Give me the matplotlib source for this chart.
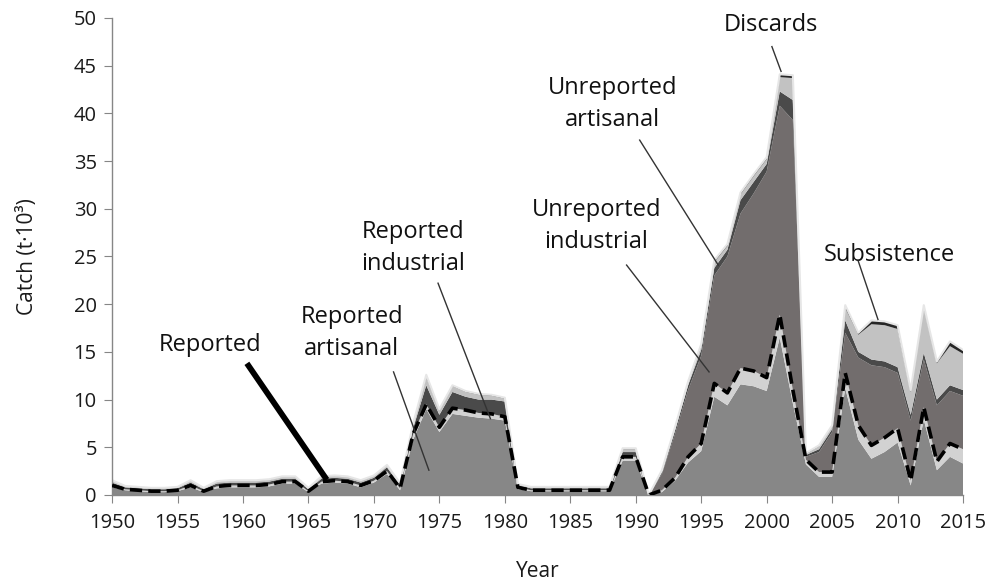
import numpy as np
import matplotlib
matplotlib.use("Agg")
import matplotlib.pyplot as plt

plt.rcParams['font.family'] = ['Open Sans', 'DejaVu Sans']

years = list(range(1950, 2016))

reported_artisanal = [
    0.8, 0.5, 0.4, 0.3, 0.3, 0.4, 0.8, 0.3, 0.7, 0.8,    # 1950-59
    0.8, 0.8, 0.9, 1.2, 1.2, 0.3, 1.2, 1.3, 1.2, 0.8,    # 1960-69
    1.3, 2.2, 0.5, 5.8, 9.0, 6.6, 8.5, 8.3, 8.1, 8.0,    # 1970-79
    7.8, 0.6, 0.4, 0.4, 0.4, 0.4, 0.4, 0.4, 0.4, 3.6,    # 1980-89
    3.6, 0.0, 0.3, 1.5, 3.4, 4.6, 10.3, 9.4, 11.6, 11.4, # 1990-99
    10.9, 16.5, 9.6, 3.2, 1.9, 1.9, 11.2, 5.8, 3.8, 4.5, # 2000-09
    5.5, 1.0, 7.9, 2.6, 4.0, 3.3]                        # 2010-15
reported_industrial = [
    0.2, 0.1, 0.1, 0.1, 0.1, 0.1, 0.2, 0.1, 0.2, 0.2,
    0.2, 0.2, 0.2, 0.2, 0.2, 0.1, 0.2, 0.2, 0.2, 0.2,
    0.2, 0.3, 0.2, 0.6, 0.5, 0.5, 0.6, 0.6, 0.5, 0.5,
    0.4, 0.2, 0.1, 0.1, 0.1, 0.1, 0.1, 0.1, 0.1, 0.4,
    0.4, 0.0, 0.2, 0.3, 0.6, 0.8, 1.4, 1.3, 1.7, 1.6,
    1.4, 2.4, 1.4, 0.5, 0.5, 0.5, 1.6, 1.5, 1.4, 1.5,
    1.5, 0.5, 1.3, 0.9, 1.4, 1.5]
unreported_industrial = [
    0.0, 0.0, 0.0, 0.0, 0.0, 0.0, 0.0, 0.0, 0.0, 0.0,
    0.0, 0.0, 0.0, 0.0, 0.0, 0.0, 0.0, 0.0, 0.0, 0.0,
    0.0, 0.0, 0.0, 0.0, 0.0, 0.0, 0.0, 0.0, 0.0, 0.0,
    0.0, 0.0, 0.0, 0.0, 0.0, 0.0, 0.0, 0.0, 0.0, 0.0,
    0.0, 0.0, 1.7, 4.6, 7.0, 9.2, 11.3, 14.3, 16.2, 18.6,
    21.6, 21.9, 28.3, 0.3, 2.1, 4.2, 4.2, 7.1, 8.4, 7.4,
    5.8, 6.3, 5.0, 5.9, 5.5, 5.6]
unreported_artisanal = [
    0.3, 0.2, 0.2, 0.2, 0.2, 0.2, 0.3, 0.2, 0.3, 0.3,
    0.3, 0.3, 0.3, 0.3, 0.3, 0.2, 0.3, 0.3, 0.3, 0.3,
    0.3, 0.4, 0.3, 0.6, 2.0, 1.3, 1.7, 1.4, 1.4, 1.5,
    1.6, 0.2, 0.2, 0.2, 0.2, 0.2, 0.2, 0.2, 0.2, 0.5,
    0.5, 0.0, 0.2, 0.4, 0.5, 0.6, 0.8, 0.7, 1.4, 1.2,
    0.8, 1.5, 2.1, 0.2, 0.3, 0.3, 1.3, 0.6, 0.6, 0.6,
    0.6, 0.6, 0.7, 0.6, 0.6, 0.6]
discards = [
    0.2, 0.1, 0.1, 0.1, 0.1, 0.1, 0.2, 0.1, 0.2, 0.2,
    0.2, 0.2, 0.2, 0.2, 0.2, 0.1, 0.2, 0.2, 0.2, 0.2,
    0.2, 0.2, 0.2, 0.4, 0.9, 0.5, 0.6, 0.5, 0.5, 0.4,
    0.3, 0.1, 0.1, 0.1, 0.1, 0.1, 0.1, 0.1, 0.1, 0.3,
    0.3, 0.0, 0.1, 0.2, 0.3, 0.4, 0.6, 0.4, 0.6, 0.6,
    0.5, 1.5, 2.3, 0.1, 0.3, 0.3, 1.3, 1.8, 3.7, 3.8,
    4.0, 2.4, 4.8, 3.8, 4.1, 3.8]
subsistence = [
    0.05, 0.05, 0.05, 0.05, 0.05, 0.05, 0.05, 0.05, 0.05, 0.05,
    0.05, 0.05, 0.05, 0.05, 0.05, 0.05, 0.05, 0.05, 0.05, 0.05,
    0.05, 0.05, 0.05, 0.1, 0.2, 0.1, 0.1, 0.1, 0.1, 0.1,
    0.1, 0.05, 0.05, 0.05, 0.05, 0.05, 0.05, 0.05, 0.05, 0.1,
    0.1, 0.0, 0.1, 0.1, 0.1, 0.2, 0.2, 0.2, 0.2, 0.2,
    0.2, 0.3, 0.3, 0.1, 0.1, 0.1, 0.3, 0.2, 0.4, 0.4,
    0.4, 0.2, 0.2, 0.2, 0.5, 0.4]

layer_colors = ['#878787', '#d2d2d2', '#726d6d', '#4a4a4a', '#c2c2c2', '#262626']

fig = plt.figure(figsize=(9.95, 5.82), dpi=100)
ax = fig.add_axes([0.1126, 0.1495, 0.8553, 0.8196])

layers = [reported_artisanal, reported_industrial, unreported_industrial,
          unreported_artisanal, discards, subsistence]
ax.stackplot(years, *layers, colors=layer_colors, linewidth=0)

total = np.sum(np.array(layers), axis=0)
ax.plot(years, total, color='#e6e6e6', lw=1.5, zorder=2)

reported_total = np.array(reported_artisanal) + np.array(reported_industrial)
ax.plot(years, reported_total, color='black', lw=2.6, linestyle=(0, (3.4, 1.7)), zorder=3)

ax.set_xlim(1950, 2015)
ax.set_ylim(0, 50)
ax.set_xticks(range(1950, 2016, 5))
ax.set_yticks(range(0, 51, 5))
for s in ['top', 'right']:
    ax.spines[s].set_visible(False)
for s in ['left', 'bottom']:
    ax.spines[s].set_color('#868686')
    ax.spines[s].set_linewidth(1.0)
ax.tick_params(axis='both', direction='out', length=6, color='#868686',
               labelsize=14.5, labelcolor='#1a1a1a')
ax.tick_params(axis='x', pad=7)
ax.tick_params(axis='y', pad=5)
ax.set_xlabel('Year', fontsize=15, color='#1a1a1a', labelpad=20)
ax.set_ylabel('Catch (t·10³)', fontsize=15, color='#1a1a1a', labelpad=26)

fs = 17
tc = '#111111'
ls = 1.45
# annotations
ax.text(1957.5, 15.7, 'Reported', fontsize=fs, ha='center', va='center', color=tc)
ax.plot([1960.3, 1966.4], [13.8, 1.6], color='black', lw=4.2, solid_capstyle='butt', zorder=4)

ax.text(1968.3, 17.0, 'Reported\nartisanal', fontsize=fs, ha='center', va='center',
        color=tc, linespacing=ls)
ax.plot([1971.5, 1974.2], [12.9, 2.6], color='#333333', lw=1.0, zorder=4)

ax.text(1973.0, 25.9, 'Reported\nindustrial', fontsize=fs, ha='center', va='center',
        color=tc, linespacing=ls)
ax.plot([1974.9, 1978.9], [22.2, 8.0], color='#333333', lw=1.0, zorder=4)

ax.text(1987.0, 28.2, 'Unreported\nindustrial', fontsize=fs, ha='center', va='center',
        color=tc, linespacing=ls)
ax.plot([1989.3, 1995.6], [24.1, 12.9], color='#333333', lw=1.0, zorder=4)

ax.text(1988.2, 41.0, 'Unreported\nartisanal', fontsize=fs, ha='center', va='center',
        color=tc, linespacing=ls)
ax.plot([1990.3, 1996.3], [37.2, 24.1], color='#333333', lw=1.0, zorder=4)

ax.text(2000.3, 49.3, 'Discards', fontsize=fs, ha='center', va='center', color=tc)
ax.plot([2000.4, 2001.1], [47.0, 44.4], color='#333333', lw=1.0, zorder=4)

ax.text(2009.4, 25.2, 'Subsistence', fontsize=fs, ha='center', va='center', color=tc)
ax.plot([2007.0, 2008.5], [24.5, 18.4], color='#333333', lw=1.0, zorder=4)

fig.savefig('out.png', dpi=100)
